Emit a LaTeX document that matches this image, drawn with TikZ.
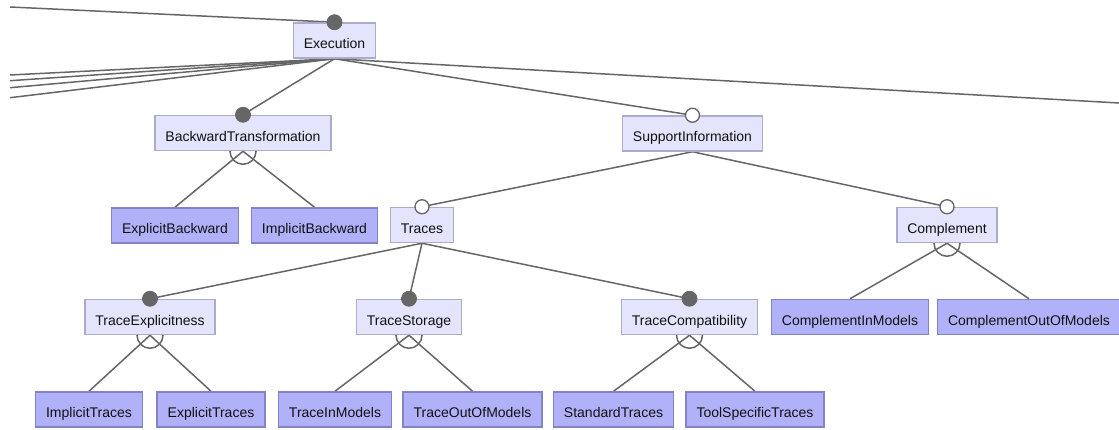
\documentclass[tikz,border=0pt]{standalone}
\usepackage{fontspec}
\setmainfont{Liberation Sans}
\definecolor{lineC}{HTML}{666666}
\definecolor{fillL}{HTML}{E4E4FC}
\definecolor{bordL}{HTML}{ABABCB}
\definecolor{fillD}{HTML}{B1B1FA}
\definecolor{bordD}{HTML}{8484C4}
\definecolor{txtC}{HTML}{111111}
\pgfdeclarelayer{bg}
\pgfsetlayers{bg,main}
\begin{document}
\begin{tikzpicture}[x=1pt,y=-1pt,
  font=\fontsize{14}{16}\selectfont, text=txtC,
  feat/.style={draw=bordL, fill=fillL, line width=1.5pt, minimum height=35pt, inner xsep=10.5pt, inner ysep=0pt, text height=16.5pt, text depth=0pt},
  leaf/.style={feat, draw=bordD, fill=fillD},
  conn/.style={draw=lineC, line width=1.5pt},
  mand/.style={circle, fill=lineC, draw=lineC, line width=0.8pt, inner sep=0pt, minimum size=15pt},
  opt/.style={circle, fill=white, draw=lineC, line width=1.3pt, inner sep=0pt, minimum size=14pt},
  grp/.style={draw=lineC, line width=1.5pt}]
\useasboundingbox (0,0) rectangle (1119,430);

% features
\node[feat] (exe) at (334.5,40.5) {Execution};
\node[feat] (bt)  at (243,133) {BackwardTransformation};
\node[feat] (si)  at (692.5,133.5) {SupportInformation};
\node[leaf] (eb)  at (175,225.5) {ExplicitBackward};
\node[leaf] (ib)  at (314.5,225.5) {ImplicitBackward};
\node[feat] (tr)  at (422,225) {Traces};
\node[feat] (co)  at (947,225) {Complement};
\node[feat] (te)  at (150,317) {TraceExplicitness};
\node[feat] (ts)  at (409,317) {TraceStorage};
\node[feat] (tc)  at (689.5,317) {TraceCompatibility};
\node[leaf] (cim) at (850,317) {ComplementInModels};
\node[leaf] (com) at (1029,317) {ComplementOutOfModels};
\node[leaf] (it)  at (89,409.5) {ImplicitTraces};
\node[leaf] (et)  at (211,409.5) {ExplicitTraces};
\node[leaf] (tim) at (335,409.5) {TraceInModels};
\node[leaf] (tom) at (472.5,409.5) {TraceOutOfModels};
\node[leaf] (st)  at (613.5,409.5) {StandardTraces};
\node[leaf] (tst) at (755,409.5) {ToolSpecificTraces};

% free ends of edges leaving the picture
\coordinate (t0) at (10,7);
\coordinate (l1) at (10,75);
\coordinate (l2) at (10,80.7);
\coordinate (l3) at (10,87.7);
\coordinate (l4) at (10,97.7);
\coordinate (r1) at (1119,103);

\begin{pgfonlayer}{bg}
  \draw[conn] (t0) -- (exe.north);
  \draw[conn] (exe.south) -- (l1);
  \draw[conn] (exe.south) -- (l2);
  \draw[conn] (exe.south) -- (l3);
  \draw[conn] (exe.south) -- (l4);
  \draw[conn] (exe.south) -- (r1);
  \draw[conn] (exe.south) -- (bt.north);
  \draw[conn] (exe.south) -- (si.north);
  \draw[conn] (bt.south) -- (eb.north);
  \draw[conn] (bt.south) -- (ib.north);
  \draw[conn] (si.south) -- (tr.north);
  \draw[conn] (si.south) -- (co.north);
  \draw[conn] (tr.south) -- (te.north);
  \draw[conn] (tr.south) -- (ts.north);
  \draw[conn] (tr.south) -- (tc.north);
  \draw[conn] (co.south) -- (cim.north);
  \draw[conn] (co.south) -- (com.north);
  \draw[conn] (te.south) -- (it.north);
  \draw[conn] (te.south) -- (et.north);
  \draw[conn] (ts.south) -- (tim.north);
  \draw[conn] (ts.south) -- (tom.north);
  \draw[conn] (tc.south) -- (st.north);
  \draw[conn] (tc.south) -- (tst.north);
  % alternative-group arcs (upper half hidden by the box)
  \draw[grp] (bt.south) circle[radius=13pt];
  \draw[grp] (co.south) circle[radius=13pt];
  \draw[grp] (te.south) circle[radius=13pt];
  \draw[grp] (ts.south) circle[radius=13pt];
  \draw[grp] (tc.south) circle[radius=13pt];
\end{pgfonlayer}

% mandatory / optional markers
\node[mand] (exe-m) at (exe.north) {};
\node[mand] (bt-m)  at (bt.north) {};
\node[opt]  (si-m)  at (si.north) {};
\node[opt]  (tr-m)  at (tr.north) {};
\node[opt]  (co-m)  at (co.north) {};
\node[mand] (te-m)  at (te.north) {};
\node[mand] (ts-m)  at (ts.north) {};
\node[mand] (tc-m)  at (tc.north) {};
\end{tikzpicture}
\end{document}
